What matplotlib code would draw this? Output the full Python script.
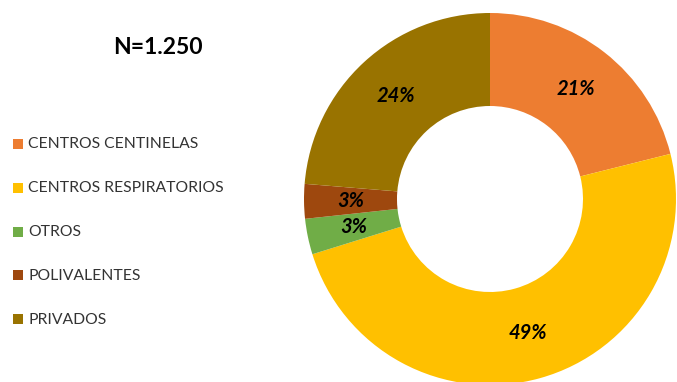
import matplotlib
matplotlib.use("Agg")
import matplotlib.pyplot as plt
from matplotlib.patches import Rectangle

categories = ["CENTROS CENTINELAS", "CENTROS RESPIRATORIOS", "OTROS", "POLIVALENTES", "PRIVADOS"]
values = [21.1, 49.1, 3.1, 3.0, 23.7]
colors = ["#ED7D31", "#FFC000", "#70AD47", "#9E480E", "#997300"]
title = "N=1.250"

W, H = 677, 382
fig = plt.figure(figsize=(W / 100, H / 100), dpi=100)
plt.rcParams['font.family'] = ['Lato', 'DejaVu Sans']

# pie axes: center (490,199) px, radius 186 px
cx, cy, R = 490, 199, 186
ax = fig.add_axes([(cx - R) / W, (H - cy - R) / H, 2 * R / W, 2 * R / H])
wedges, texts, autotexts = ax.pie(
    values, colors=colors, startangle=90, counterclock=False, radius=1,
    wedgeprops=dict(width=0.5, linewidth=0),
    autopct=lambda p: f"{p:.0f}%", pctdistance=0.75,
    textprops=dict(fontsize=14.5, fontweight='bold', fontstyle='italic', color='black'))
ax.set_xlim(-1, 1)
ax.set_ylim(-1, 1)
ax.set_aspect('equal')
ax.axis('off')

fig.text(158 / W, 1 - 48 / H, title, ha='center', va='center', fontsize=16.5, fontweight='bold', color='black')

# legend
y0, dy = 144.5, 43.8
for i, (lab, col) in enumerate(zip(categories, colors)):
    yy = y0 + i * dy
    fig.patches.append(Rectangle((13 / W, 1 - (yy + 4.5) / H), 10 / W, 10 / H,
                                 transform=fig.transFigure, facecolor=col, edgecolor='none'))
    fig.text(28 / W, 1 - yy / H, lab, ha='left', va='center', fontsize=11.3, color='#333333')

fig.savefig("out.png", dpi=100)
